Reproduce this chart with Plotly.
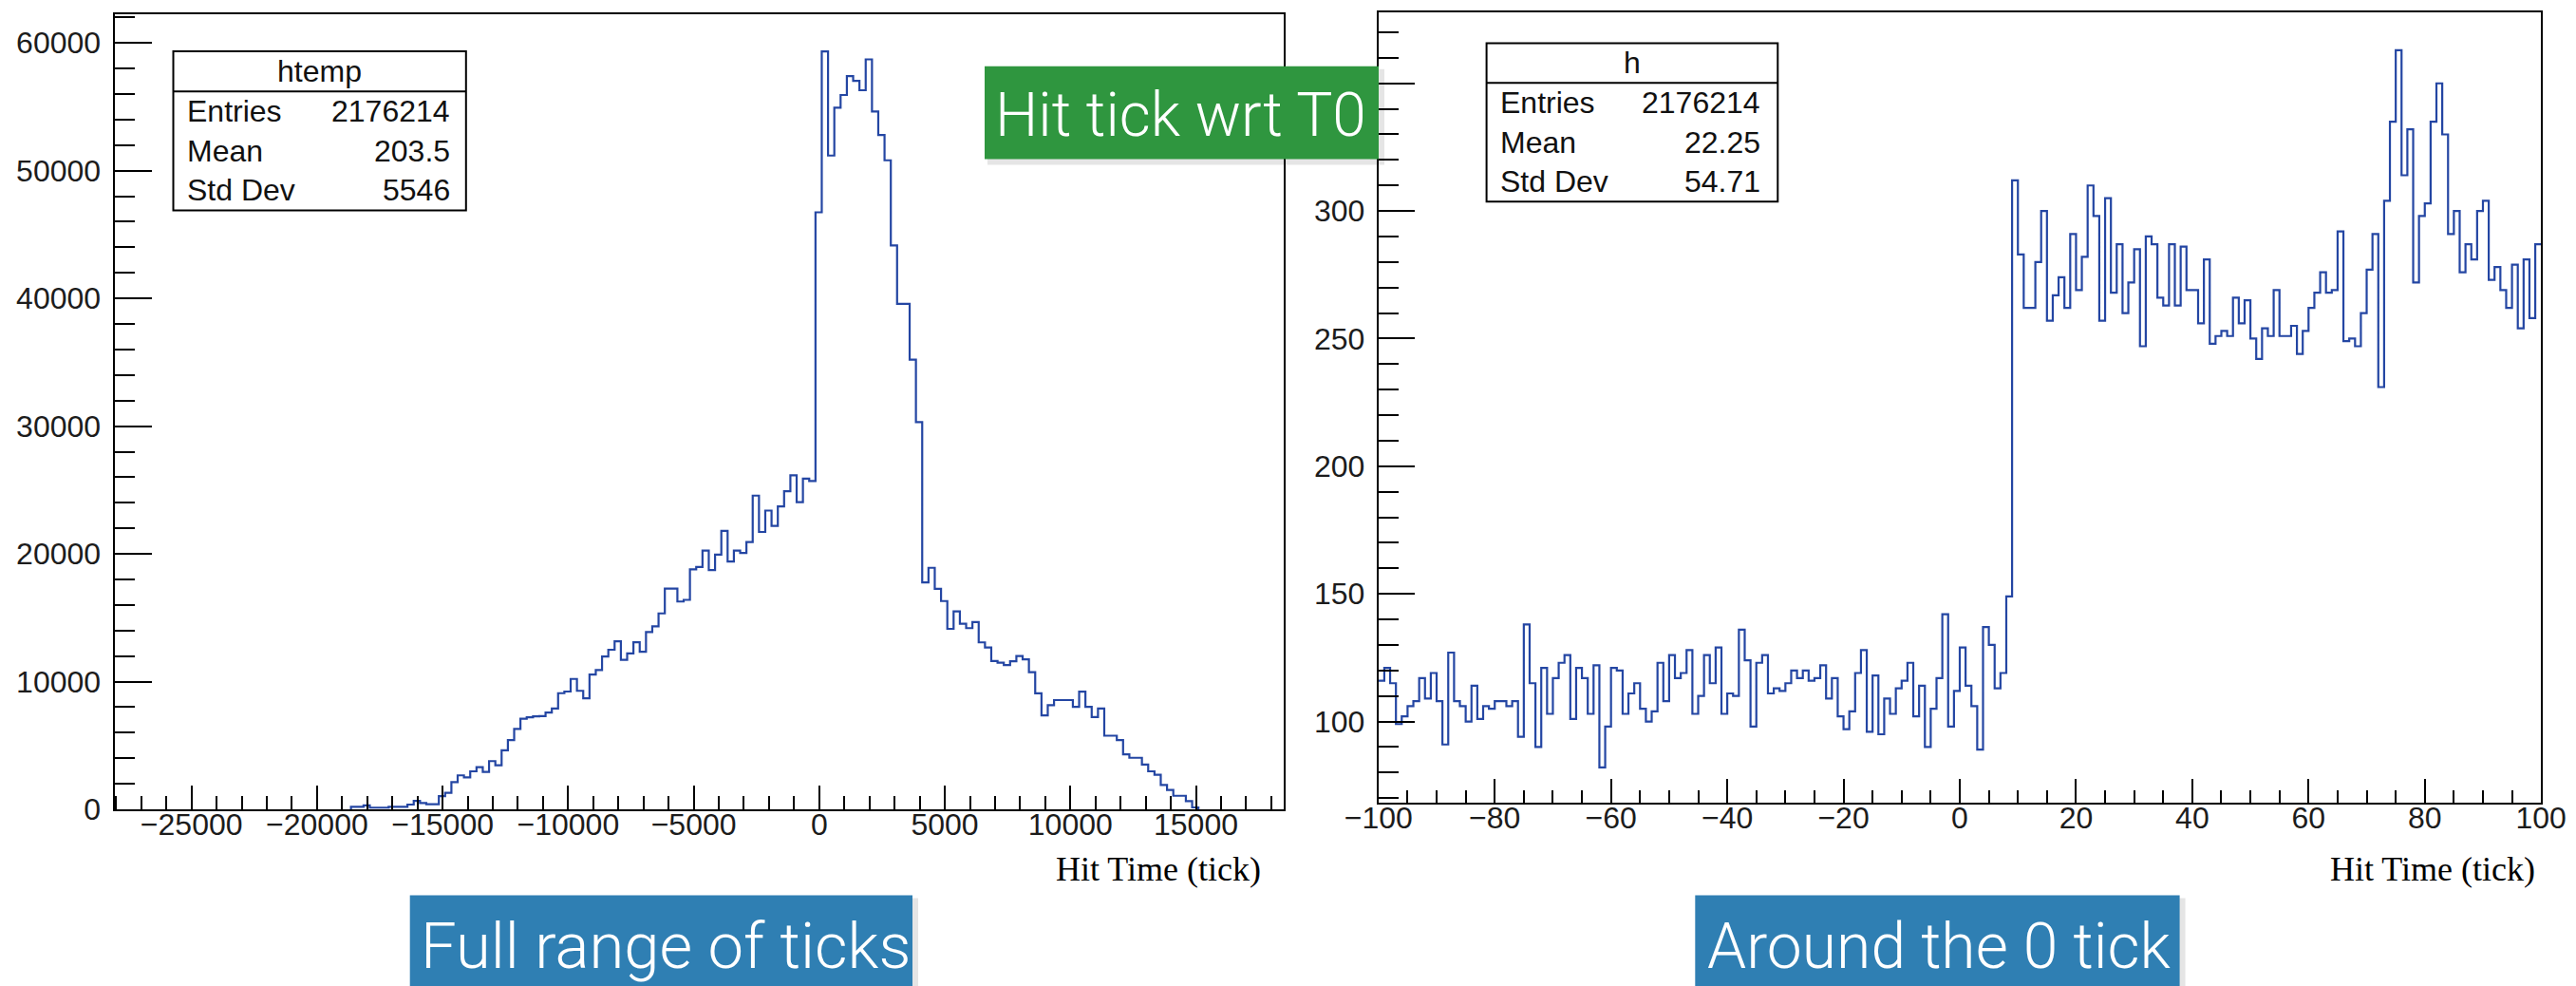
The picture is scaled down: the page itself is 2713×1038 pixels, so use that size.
import plotly.graph_objects as go

W, H = 2713, 1038

# ---------------- data ----------------
left_edge0 = -18650
left_binw = 250
left_counts = [200, 200, 300, 130, 130, 130, 190, 190, 190, 372, 664, 500, 400, 400,
               1027, 1293, 2125, 2657, 2497, 2976, 3295, 2923, 3774, 3455, 4625, 5422,
               6299, 7097, 7200, 7284, 7300, 7576, 7895, 9091, 9224, 10208, 9277, 8692,
               10553, 10899, 11962, 12494, 13158, 11700, 12200, 13079, 12335, 13876,
               14328, 15338, 17278, 17278, 16268, 16400, 18793, 18979, 20255, 18740,
               19936, 21797, 19405, 20255, 20069, 20920, 24561, 21717, 23392, 22196,
               23711, 24907, 26156, 24057, 25890, 25704,
               46744, 59334, 51187, 54937, 55927, 57410, 57040, 56300, 58718, 54642,
               52790, 50814, 44146, 39578, 39578, 35208, 30321, 17771, 18911, 17257,
               16308, 14130, 15500, 14534, 14188, 14666, 13072, 12673, 11610, 11477,
               11300, 11600, 12009, 11743, 10733, 9085, 7358, 8155, 8554, 8554, 8554,
               8022, 9218, 8022, 7225, 7889, 5763, 5763, 5418, 4302, 4036, 4036, 3505,
               2974, 2708, 1911, 1512, 1060, 1060, 635, 150]

right_edge0 = -100
right_binw = 1
right_counts = [116, 121, 115, 99, 102, 106, 108, 117, 109, 119,
                108, 91, 127, 108, 106, 100, 114, 101, 106, 105,
                108, 108, 106, 108, 94, 138, 115, 90, 121, 103,
                117, 123, 126, 101, 121, 117, 103, 122, 82, 98,
                121, 120, 103, 111, 115, 105, 100, 104, 123, 108,
                126, 117, 119, 128, 103, 110, 126, 115, 129, 103,
                111, 110, 136, 124, 98, 123, 126, 111, 113, 112,
                115, 120, 117, 120, 116, 117, 122, 109, 117, 102,
                97, 104, 119, 128, 96, 118, 95, 109, 103, 113,
                116, 123, 102, 114, 90, 105, 117, 142, 98, 112,
                129, 114, 106, 89, 137, 130, 113, 119, 149, 312,
                283, 262, 262, 280, 300, 257, 267, 274, 262, 291,
                269, 282, 310, 298, 257, 305, 268, 287, 260, 272,
                285, 247, 290, 287, 266, 263, 287, 263, 286, 269,
                269, 256, 281, 248, 251, 253, 251, 266, 256, 265,
                250, 242, 254, 251, 269, 251, 251, 255, 244, 253,
                262, 268, 276, 268, 269, 292, 249, 250, 247, 260,
                277, 291, 231, 304, 335, 363, 314, 332, 272, 298,
                303, 335, 350, 330, 291, 300, 276, 287, 281, 300,
                304, 273, 278, 269, 262, 279, 254, 281, 258, 287]

left_xticks = [-25000, -20000, -15000, -10000, -5000, 0, 5000, 10000, 15000]
left_yticks = [0, 10000, 20000, 30000, 40000, 50000, 60000]
right_xticks = [-100, -80, -60, -40, -20, 0, 20, 40, 60, 80, 100]
right_yticks = [100, 150, 200, 250, 300, 350]
right_yticks_hidden = [350]   # label lies under the green box in the reference

stat_labels = ["Entries", "Mean", "Std Dev"]
left_stat_values = ["2176214", "203.5", "5546"]
right_stat_values = ["2176214", "22.25", "54.71"]
left_title = "htemp"
right_title = "h"
axis_title = "Hit Time (tick)"
green_text = "Hit tick wrt T0"
blue_texts = ["Full range of ticks", "Around the 0 tick"]

# ---------------- helpers ----------------
def X(p):
    return p / W

def Y(p):
    return 1 - p / H

def fmt(v, hidden=()):
    if v in hidden:
        return ""
    return str(v).replace("-", "\u2212")

def step_xy(edge0, w, counts, close=True):
    n = len(counts)
    edges = [edge0 + i * w for i in range(n + 1)]
    xs, ys = [], []
    if close:
        xs.append(edges[0]); ys.append(0)
    for i in range(n):
        xs.append(edges[i]); ys.append(counts[i])
    xs.append(edges[n]); ys.append(counts[-1])
    if close:
        xs.append(edges[n]); ys.append(0)
    return xs, ys

HIST_COLOR = "#2446a3"
LBL_FONT = dict(family="Liberation Sans, Arial, sans-serif", size=32, color="#1c1c1c")
STAT_FONT = dict(family="Liberation Sans, Arial, sans-serif", size=32, color="#111111")

fig = go.Figure()
lx, ly = step_xy(left_edge0, left_binw, left_counts, True)
fig.add_trace(go.Scatter(x=lx, y=ly, mode="lines", xaxis="x", yaxis="y",
                         line=dict(shape="hv", color=HIST_COLOR, width=2.2),
                         hoverinfo="skip"))
rx, ry = step_xy(right_edge0, right_binw, right_counts, False)
fig.add_trace(go.Scatter(x=rx, y=ry, mode="lines", xaxis="x2", yaxis="y2",
                         line=dict(shape="hv", color=HIST_COLOR, width=2.2),
                         hoverinfo="skip"))

def axis_common(**kw):
    d = dict(showline=True, linewidth=2, linecolor="black", mirror=True,
             showgrid=False, zeroline=False, ticks="inside", tickwidth=2,
             tickcolor="black", tickfont=LBL_FONT, fixedrange=True, automargin=False)
    d.update(kw)
    return d

fig.update_layout(
    width=W, height=H, margin=dict(l=0, r=0, t=0, b=0, autoexpand=False),
    paper_bgcolor="white", plot_bgcolor="white", showlegend=False,
    xaxis=axis_common(domain=[X(120.5), X(1351.8)], range=[-28070, 18490], anchor="y",
                      tickvals=left_xticks, ticktext=[fmt(v) for v in left_xticks],
                      ticklen=25,
                      minor=dict(dtick=1000, tick0=0, ticklen=14, tickwidth=2,
                                 tickcolor="black", ticks="inside"),
                      ticklabelstandoff=-13),
    yaxis=axis_common(domain=[Y(852), Y(15)], range=[0, 62250], anchor="x",
                      tickvals=left_yticks, ticktext=[fmt(v) for v in left_yticks],
                      ticklen=39,
                      minor=dict(dtick=2000, tick0=0, ticklen=21, tickwidth=2,
                                 tickcolor="black", ticks="inside"),
                      ticklabelstandoff=6),
    xaxis2=axis_common(domain=[X(1451.8), X(2676.2)], range=[-100, 100], anchor="y2",
                       tickvals=right_xticks, ticktext=[fmt(v) for v in right_xticks],
                       ticklen=25,
                       minor=dict(dtick=5, tick0=0, ticklen=13, tickwidth=2,
                                  tickcolor="black", ticks="inside"),
                       ticklabelstandoff=-13),
    yaxis2=axis_common(domain=[Y(845), Y(13.3)], range=[68.2, 377.7], anchor="x2",
                       tickvals=right_yticks,
                       ticktext=[fmt(v, right_yticks_hidden) for v in right_yticks],
                       ticklen=38,
                       minor=dict(dtick=10, tick0=0, ticklen=21, tickwidth=2,
                                  tickcolor="black", ticks="inside"),
                       ticklabelstandoff=6),
)

shapes = []
annotations = []

# stats boxes
def stats_box(x0, x1, y0, y1, ysep, title, values, label_x, value_x, rows_y, title_y):
    shapes.append(dict(type="rect", xref="paper", yref="paper", x0=X(x0), x1=X(x1),
                       y0=Y(y1), y1=Y(y0), line=dict(color="black", width=2),
                       fillcolor="white", layer="above"))
    shapes.append(dict(type="line", xref="paper", yref="paper", x0=X(x0), x1=X(x1),
                       y0=Y(ysep), y1=Y(ysep), line=dict(color="black", width=2),
                       layer="above"))
    annotations.append(dict(xref="paper", yref="paper", x=X((x0 + x1) / 2), y=Y(title_y),
                            text=title, showarrow=False, xanchor="center", yanchor="middle",
                            font=STAT_FONT))
    for lab, val, ry_ in zip(stat_labels, values, rows_y):
        annotations.append(dict(xref="paper", yref="paper", x=X(label_x), y=Y(ry_),
                                text=lab, showarrow=False, xanchor="left", yanchor="middle",
                                font=STAT_FONT))
        annotations.append(dict(xref="paper", yref="paper", x=X(value_x), y=Y(ry_),
                                text=val, showarrow=False, xanchor="right", yanchor="middle",
                                font=STAT_FONT))

stats_box(182.5, 490.8, 54, 221.6, 96.2, left_title, left_stat_values,
          195, 476, [117, 159, 200], 75)
stats_box(1565.6, 1872.3, 45.4, 212.3, 87.2, right_title, right_stat_values,
          1578, 1856, [108, 149.5, 191], 66)

# axis titles
for xr in (1330, 2672):
    annotations.append(dict(xref="paper", yref="paper", x=X(xr), y=Y(915),
                            text=axis_title, showarrow=False, xanchor="right",
                            yanchor="middle",
                            font=dict(family="Liberation Serif, Times New Roman, serif",
                                      size=36, color="black")))

# coloured label boxes
def label_box(x0, x1, y0, y1, color, text, tx, ty, size):
    shapes.append(dict(type="rect", xref="paper", yref="paper", x0=X(x0 + 3), x1=X(x1 + 6),
                       y0=Y(y1 + 6), y1=Y(y0 + 3), line=dict(width=0),
                       fillcolor="rgba(0,0,0,0.10)", layer="above"))
    shapes.append(dict(type="rect", xref="paper", yref="paper", x0=X(x0), x1=X(x1),
                       y0=Y(y1), y1=Y(y0), line=dict(width=0), fillcolor=color,
                       layer="above"))
    annotations.append(dict(xref="paper", yref="paper", x=X(tx), y=Y(ty), text=text,
                            showarrow=False, xanchor="left", yanchor="middle",
                            font=dict(family="Roboto Light, Lato Light, Roboto, sans-serif",
                                      size=size, color="white", weight=300)))

label_box(1037, 1452, 69.7, 167.5, "#2f963f", green_text, 1046, 121, 64)
label_box(431.7, 961, 942.5, 1045, "#2f7fb3", blue_texts[0], 441, 996, 67)
label_box(1785.3, 2295.6, 942.5, 1045, "#2f7fb3", blue_texts[1], 1796, 996, 66)

fig.update_layout(shapes=shapes, annotations=annotations)
fig.write_html("out.html")
